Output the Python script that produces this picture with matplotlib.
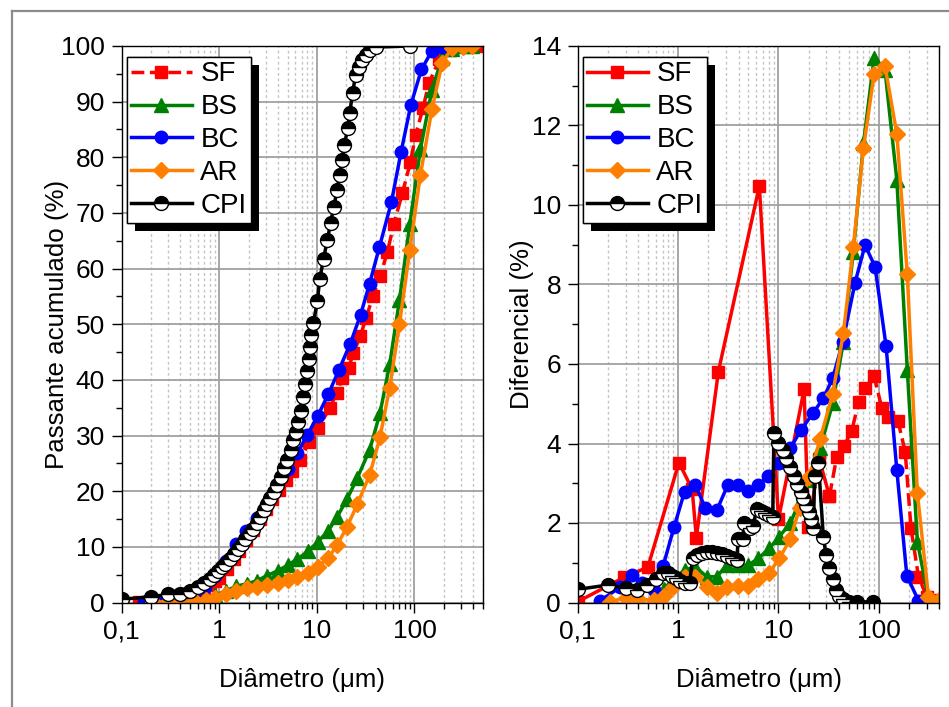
import matplotlib
matplotlib.use('Agg')
import matplotlib.pyplot as plt
import matplotlib.patheffects as pe
from matplotlib.lines import Line2D
from matplotlib.ticker import FixedLocator, FixedFormatter, LogLocator, NullFormatter, MultipleLocator

plt.rcParams['font.family'] = ['Liberation Sans', 'DejaVu Sans']

# ---------------- data: cumulative (left) ----------------
sf_x_cum = [0.15, 0.2, 0.3, 0.4, 0.5, 0.6, 0.7, 0.8, 0.9, 1.0, 1.2, 1.4, 1.6, 1.9, 2.2, 2.6, 3.0, 3.5, 4.1, 4.8,
            5.6, 6.7, 8.4, 10.3, 13.5, 16.0, 18.2, 21.2, 23.5, 27.8, 32.0, 37.5, 44.6, 52.8, 61.6, 75.0, 90.8, 102.8,
            122, 141, 180, 233, 290, 360, 450]
sf_y_cum = [0.1, 0.3, 0.7, 1.1, 1.5, 2.0, 2.6, 3.2, 3.8, 4.4, 6.0, 7.8, 9.3, 11.2, 13.0, 15.0, 16.8, 18.6, 20.3, 22.0,
            23.6, 25.6, 28.9, 31.3, 34.9, 37.7, 40.3, 42.1, 44.8, 47.8, 51.2, 55.0, 58.7, 63.0, 68.1, 73.5, 79.1, 84.0,
            88.8, 93.4, 97.6, 99.3, 100, 100, 100]

bs_x = [0.57, 0.73, 0.90, 1.17, 1.48, 1.93, 2.43, 3.05, 3.98, 5.01, 6.31, 8.1, 10.2, 13.1, 16.2, 20.3, 26, 34.7,
        44.3, 55.7, 70.2, 89.6, 115, 151, 192, 242, 312, 393]
bs_y_cum = [0.2, 0.6, 1.3, 2.1, 2.9, 3.4, 3.9, 4.8, 5.7, 6.7, 7.8, 9.2, 10.9, 12.9, 15.45, 18.53, 22.41, 27.42,
            33.98, 42.81, 54.36, 68.05, 81.45, 92.08, 97.93, 99.46, 100, 100]

bc_x = [0.168, 0.264, 0.346, 0.44, 0.57, 0.71, 0.91, 1.16, 1.49, 1.87, 2.44, 3.13, 3.93, 5.01, 6.31, 7.94, 10.2,
        13.1, 16.8, 22, 28, 34.7, 43.7, 58, 72.8, 91.6, 118, 151, 190, 248]
bc_y_cum = [0.05, 0.43, 1.12, 1.6, 1.91, 2.83, 4.72, 7.51, 10.47, 12.84, 15.17, 18.13, 21.09, 23.9, 26.86, 30.03,
            33.55, 37.43, 41.77, 46.53, 51.67, 57.31, 63.87, 71.92, 80.91, 89.36, 95.81, 99.14, 99.81, 100]

ar_x = [0.21, 0.3, 0.40, 0.57, 0.73, 0.90, 1.17, 1.48, 1.93, 2.43, 3.05, 3.98, 5.01, 6.31, 8.1, 10.2, 13.1, 16.2,
        20.3, 26, 34.7, 44.3, 55.7, 70.2, 89.6, 115, 151, 192, 242, 312, 393]
ar_y_cum = [0.02, 0.14, 0.22, 0.28, 0.44, 0.82, 1.47, 2.12, 2.52, 2.75, 3.15, 3.57, 3.99, 4.57, 5.32, 6.43, 8.02,
            10.39, 13.55, 17.66, 22.91, 29.68, 38.63, 50.06, 63.35, 76.85, 88.64, 96.9, 99.65, 99.8, 100]

cpi_x_cum = [0.1, 0.2, 0.3, 0.4, 0.5, 0.6, 0.7, 0.8, 0.88, 0.96, 1.07, 1.15, 1.28, 1.40, 1.55, 1.71, 1.85, 2.05,
             2.22, 2.44, 2.64, 2.85, 3.09, 3.34, 3.62, 3.92, 4.24, 4.58, 4.96, 5.37, 5.72, 6.04, 6.38, 6.92, 7.25,
             7.6, 7.95, 8.4, 8.6, 8.8, 9.2, 10.1, 10.7, 11.7, 12.8, 13.8, 14.9, 16.1, 17.1, 18.1, 19.1, 20.7, 21.7,
             23.2, 24.9, 26.9, 29.2, 31.6, 34.9, 40, 90]
cpi_y_cum = [0.6, 1.0, 1.5, 1.6, 2.1, 2.8, 3.5, 4.3, 4.9, 5.7, 6.4, 7.0, 7.8, 8.8, 9.7, 10.6, 11.5, 12.4, 13.2,
             14.3, 15.4, 16.6, 17.7, 18.7, 19.9, 21.1, 22.6, 24.1, 25.6, 27.4, 29.2, 30.7, 32.4, 34.5, 36.9, 39.3,
             41.6, 43.8, 45.9, 48.0, 50.2, 54.1, 58.1, 61.8, 65.1, 68.2, 71.1, 74.1, 76.8, 79.6, 82.2, 85.2, 88.0,
             91.5, 94.8, 96.3, 97.4, 98.4, 99.3, 99.8, 100]

# ---------------- data: differential (right) ----------------
sf_x_dif = [0.1, 0.288, 0.5, 1.02, 1.38, 1.52, 2.52, 6.45, 10.0, 18.0, 19.9, 25.5, 32.2, 38, 45, 53.7, 63, 73.5,
            89.6, 107, 123, 155, 183, 209, 248, 300, 377]
sf_y_dif = [0.02, 0.63, 0.89, 3.52, 2.85, 1.63, 5.81, 10.48, 2.09, 5.36, 1.91, 3.6, 2.68, 3.65, 3.94, 4.32, 5.05,
            5.39, 5.70, 4.89, 4.67, 4.57, 3.79, 1.87, 0.65, 0.15, 0.06]
sf_solid_n = 13  # points drawn with a solid line; the rest dashed

bs_y_dif = [0.0, 0.35, 0.6, 0.82, 0.9, 0.65, 0.65, 0.94, 0.94, 0.94, 1.11, 1.36, 1.66, 1.99, 2.54, 3.08, 3.88,
            5.01, 6.56, 8.83, 11.55, 13.69, 13.4, 10.63, 5.85, 1.53, 0.1, 0.03]

bc_y_dif = [0.05, 0.38, 0.69, 0.48, 0.31, 0.92, 1.89, 2.79, 2.96, 2.37, 2.33, 2.96, 2.96, 2.81, 2.96, 3.17, 3.52,
            3.88, 4.34, 4.76, 5.14, 5.64, 6.56, 8.05, 8.99, 8.45, 6.45, 3.33, 0.67, 0.05]

ar_y_dif = [0.02, 0.12, 0.08, 0.06, 0.16, 0.38, 0.65, 0.65, 0.40, 0.23, 0.40, 0.42, 0.42, 0.58, 0.75, 1.11, 1.59,
            2.37, 3.16, 4.11, 5.25, 6.77, 8.95, 11.43, 13.29, 13.5, 11.79, 8.26, 2.75, 0.15, 0.06]

cpi_x_dif = [0.1, 0.2, 0.3, 0.39, 0.49, 0.6, 0.7, 0.8, 0.87, 0.95, 1.05, 1.17, 1.30, 1.40, 1.54, 1.72, 1.93, 2.17,
             2.43, 2.72, 3.05, 3.42, 3.84, 3.98, 4.41, 4.54, 5.2, 5.55, 6.08, 6.67, 7.35, 8.1, 8.77, 9.0, 9.96, 11.0,
             11.9, 13.1, 14.3, 15.4, 16.7, 17.7, 18.9, 20.1, 21.0, 22.3, 22.9, 25.0, 28.0, 29.8, 32.2, 34.7, 37.6,
             40.5, 43.7, 50, 60, 87]
cpi_y_dif = [0.33, 0.44, 0.36, 0.31, 0.44, 0.58, 0.75, 0.73, 0.67, 0.61, 0.54, 0.5, 0.5, 1.11, 1.2, 1.24, 1.28,
             1.28, 1.25, 1.22, 1.17, 1.11, 1.07, 1.61, 1.59, 1.99, 1.87, 1.92, 2.34, 2.31, 2.26, 2.2, 2.16, 4.26,
             4.02, 3.84, 3.63, 3.42, 3.18, 2.98, 2.79, 2.62, 2.45, 2.28, 2.09, 1.87, 3.18, 3.52, 1.64, 1.19, 0.86,
             0.58, 0.31, 0.16, 0.08, 0.02, 0.01, 0.02]

labels = ['SF', 'BS', 'BC', 'AR', 'CPI']
x_tick_vals = [0.1, 1, 10, 100]
x_tick_labels = ['0,1', '1', '10', '100']

RED, GREEN, BLUE, ORANGE = '#FF0000', '#008000', '#0000FF', '#FF8000'
LW = 2.5
sty = {
    'SF': dict(color=RED, marker='s', ms=8.5),
    'BS': dict(color=GREEN, marker='^', ms=10),
    'BC': dict(color=BLUE, marker='o', ms=9),
    'AR': dict(color=ORANGE, marker='D', ms=8),
    'CPI': dict(color='k', marker='o', ms=10, fillstyle='top', markerfacecolor='k',
                markerfacecoloralt='w', markeredgecolor='k', markeredgewidth=1),
}

W, H = 949, 707
fig = plt.figure(figsize=(W / 100, H / 100), dpi=100)


def rect(l, t, r, b):
    return [l / W, 1 - b / H, (r - l) / W, (b - t) / H]


axL = fig.add_axes(rect(121.7, 46, 482.7, 602.5))
axR = fig.add_axes(rect(577.7, 46, 939.3, 602.5))

# outer frame
fig.add_artist(Line2D([12 / W, 12 / W], [1 - 11 / H, 0], transform=fig.transFigure, color='#8c8c8c', lw=1.6))
fig.add_artist(Line2D([12 / W, 1], [1 - 11 / H, 1 - 11 / H], transform=fig.transFigure, color='#8c8c8c', lw=1.6))

hL = []
hL.append(axL.plot(sf_x_cum, sf_y_cum, ls='--', lw=LW, **sty['SF'])[0])
hL.append(axL.plot(bs_x, bs_y_cum, ls='-', lw=LW, **sty['BS'])[0])
hL.append(axL.plot(bc_x, bc_y_cum, ls='-', lw=LW, **sty['BC'])[0])
hL.append(axL.plot(ar_x, ar_y_cum, ls='-', lw=LW, **sty['AR'])[0])
hL.append(axL.plot(cpi_x_cum, cpi_y_cum, ls='-', lw=LW, **sty['CPI'])[0])

hR = []
hR.append(axR.plot(sf_x_dif[:sf_solid_n], sf_y_dif[:sf_solid_n], ls='-', lw=LW, **sty['SF'])[0])
axR.plot(sf_x_dif[sf_solid_n - 1:], sf_y_dif[sf_solid_n - 1:], ls='--', lw=LW, **sty['SF'])
hR.append(axR.plot(bs_x, bs_y_dif, ls='-', lw=LW, **sty['BS'])[0])
hR.append(axR.plot(bc_x, bc_y_dif, ls='-', lw=LW, **sty['BC'])[0])
hR.append(axR.plot(ar_x, ar_y_dif, ls='-', lw=LW, **sty['AR'])[0])
hR.append(axR.plot(cpi_x_dif, cpi_y_dif, ls='-', lw=LW, **sty['CPI'])[0])

for ax, ymax, ymaj, ymin, xmax in [(axL, 100, 10, 5, 500), (axR, 14, 2, 1, 400)]:
    ax.set_xscale('log')
    ax.set_xlim(0.1, xmax)
    ax.set_ylim(0, ymax)
    ax.xaxis.set_major_locator(FixedLocator(x_tick_vals))
    ax.xaxis.set_major_formatter(FixedFormatter(x_tick_labels))
    ax.xaxis.set_minor_locator(LogLocator(base=10, subs=range(2, 10), numticks=20))
    ax.xaxis.set_minor_formatter(NullFormatter())
    ax.yaxis.set_major_locator(MultipleLocator(ymaj))
    ax.yaxis.set_minor_locator(MultipleLocator(ymin))
    ax.set_axisbelow(True)
    ax.grid(which='major', color='#a0a0a0', lw=1.3, ls='-')
    ax.grid(which='minor', axis='x', color='#c4c4c4', lw=1.0, ls=(0, (2, 2)))
    ax.tick_params(which='major', direction='out', length=7, width=1, labelsize=19, pad=5,
                   top=False, right=False)
    ax.tick_params(which='minor', direction='out', length=4, width=1, top=False, right=False)
    ax.tick_params(axis='y', which='major', pad=5)
    for s in ax.spines.values():
        s.set_color('k')
        s.set_linewidth(1)
    ax.set_xlabel('Diâmetro (μm)', fontsize=18.6, labelpad=18)

axL.set_ylabel('Passante acumulado (%)', fontsize=18.6)
axR.set_ylabel('Diferencial (%)', fontsize=18.6)
axL.yaxis.set_label_coords(-0.146, 0.5)
axR.yaxis.set_label_coords(-0.121, 0.5)

for ax, hs in [(axL, hL), (axR, hR)]:
    leg = ax.legend(hs, labels, loc='upper left', bbox_to_anchor=(0.0139, 0.980), borderaxespad=0,
                    fontsize=20, frameon=True, fancybox=False, edgecolor='k', framealpha=1,
                    handlelength=2.2, handletextpad=0.3, labelspacing=0.25, borderpad=0.15)
    fr = leg.get_frame()
    fr.set_linewidth(1)
    fr.set_path_effects([pe.withSimplePatchShadow(offset=(5.8, -5.8), shadow_rgbFace='k', alpha=1),
                         pe.Normal()])

fig.savefig('out.png', dpi=100)
